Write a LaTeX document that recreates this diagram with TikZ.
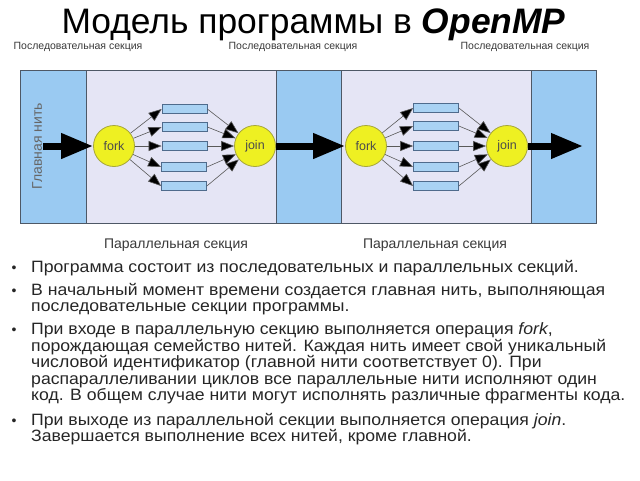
\documentclass[tikz,border=0pt]{standalone}
\usepackage{fontspec}
\setmainfont{Liberation Sans}
\newfontfamily\bodyfont[FakeStretch=1.075]{Liberation Sans}
\usetikzlibrary{arrows.meta}
\definecolor{seqblue}{HTML}{9ACAF2}
\definecolor{parbg}{HTML}{E5E5F5}
\definecolor{framec}{HTML}{4E5866}
\definecolor{threadc}{HTML}{A9D2F3}
\definecolor{threadbd}{HTML}{4F6B8C}
\definecolor{yel}{HTML}{EEF022}
\definecolor{yelbd}{HTML}{A6A63A}
\definecolor{labc}{HTML}{3A3A3A}
\begin{document}
\begin{tikzpicture}[x=1pt,y=-1pt,
  seqsec/.style={fill=seqblue,draw=framec,line width=0.8pt},
  parsec/.style={fill=parbg,draw=framec,line width=0.8pt},
  thr/.style={rectangle,fill=threadc,draw=threadbd,line width=0.7pt,minimum width=45pt,minimum height=9pt,inner sep=0pt},
  op/.style={circle,fill=yel,draw=yelbd,line width=0.8pt,minimum size=41pt,inner sep=0pt,font=\fontsize{12.5}{12.5}\selectfont,text=black!70},
  thinarr/.style={draw=black!65,line width=0.6pt,-{Triangle[length=13pt,width=10pt,fill=black]}},
  thickarr/.style={draw=black,line width=7pt,-{Triangle[length=32pt,width=24pt]}},
  seclab/.style={font=\fontsize{10.5}{11}\selectfont,text=labc},
  parlab/.style={font=\fontsize{14}{14}\selectfont,text=labc},
  btxt/.style={anchor=base west,inner sep=0pt,font=\bodyfont\fontsize{16.4}{16.4}\selectfont,text=black!85},
  bdot/.style={anchor=base,inner sep=0pt,font=\fontsize{14}{14}\selectfont,text=black!85}
]
\useasboundingbox (0,0) rectangle (640,480);
\fill[white] (0,0) rectangle (640,480);

% title
\node[anchor=base,inner sep=0pt,font=\fontsize{35.4}{36}\selectfont] (title) at (313.5,33) {Модель программы в \textbf{\textit{OpenMP}}};

% section labels
\node[seclab] (s1) at (78,47) {Последовательная секция};
\node[seclab] (s2) at (293,47) {Последовательная секция};
\node[seclab] (s3) at (525,47) {Последовательная секция};

% sections
\draw[seqsec] (20,70) rectangle (86,223);
\draw[parsec] (86,70) rectangle (276,223);
\draw[seqsec] (276,70) rectangle (341,223);
\draw[parsec] (341,70) rectangle (531,223);
\draw[seqsec] (531,70) rectangle (596,223);

\node[rotate=90,font=\fontsize{14}{14}\selectfont,text=black!60] (main) at (37,146) {Главная нить};

% parallel section 1
\node[op] (f1) at (114,146) {fork};
\node[op] (j1) at (255,146) {join};
\node[thr] (t11) at (184.5,109) {};
\node[thr] (t12) at (184.5,127) {};
\node[thr] (t13) at (184.5,146) {};
\node[thr] (t14) at (184,167) {};
\node[thr] (t15) at (184,186) {};
\foreach \i in {1,...,5}{
  \draw[thinarr] (f1) -- (t1\i.west);
  \draw[thinarr] (t1\i.east) -- (j1);
}

% parallel section 2
\node[op] (f2) at (366,146) {fork};
\node[op] (j2) at (507,146) {join};
\node[thr] (t21) at (436,108) {};
\node[thr] (t22) at (436,126) {};
\node[thr] (t23) at (436,146) {};
\node[thr] (t24) at (436,167) {};
\node[thr] (t25) at (436,186) {};
\foreach \i in {1,...,5}{
  \draw[thinarr] (f2) -- (t2\i.west);
  \draw[thinarr] (t2\i.east) -- (j2);
}

% main thread arrows
\coordinate (mstart) at (43,146);
\coordinate (mend) at (583,146);
\draw[thickarr] (mstart) -- (f1);
\draw[thickarr] (j1) -- (f2);
\draw[thickarr] (j2) -- (mend);

% parallel labels
\node[parlab] (p1) at (176,245) {Параллельная секция};
\node[parlab] (p2) at (435,245) {Параллельная секция};

% bullets
\node[bdot] (b1) at (14,272) {•};
\node[btxt] (l1) at (31,272) {Программа состоит из последовательных и параллельных секций.};
\node[bdot] (b2) at (14,295) {•};
\node[btxt] (l2) at (31,295) {В начальный момент времени создается главная нить, выполняющая};
\node[btxt] (l3) at (31,311) {последовательные секции программы.};
\node[bdot] (b3) at (14,334) {•};
\node[btxt] (l4) at (31,334) {При входе в параллельную секцию выполняется операция \textit{fork},};
\node[btxt] (l5) at (31,351) {порождающая семейство нитей. Каждая нить имеет свой уникальный};
\node[btxt] (l6) at (31,367.5) {числовой идентификатор (главной нити соответствует 0). При};
\node[btxt] (l7) at (31,384) {распараллеливании циклов все параллельные нити исполняют один};
\node[btxt] (l8) at (31,400) {код. В общем случае нити могут исполнять различные фрагменты кода.};
\node[bdot] (b4) at (14,425) {•};
\node[btxt] (l9) at (31,425) {При выходе из параллельной секции выполняется операция \textit{join}.};
\node[btxt] (l10) at (31,441) {Завершается выполнение всех нитей, кроме главной.};
\end{tikzpicture}
\end{document}
